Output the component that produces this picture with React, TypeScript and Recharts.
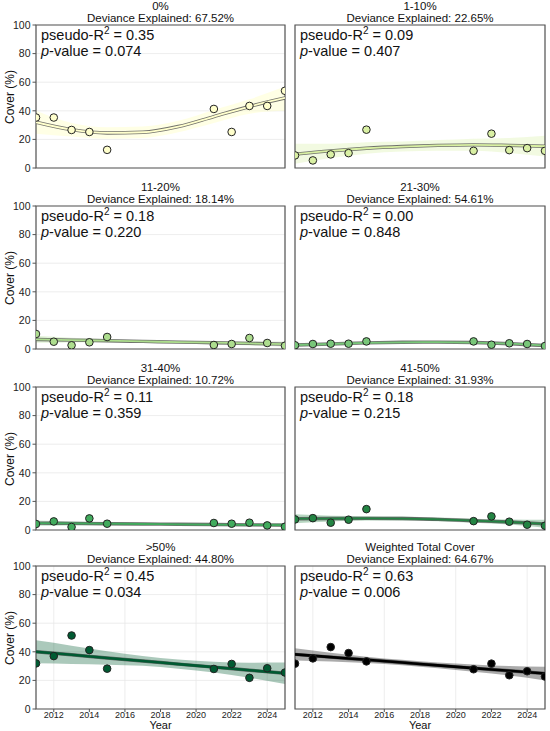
import React from "react";
import {
  ComposedChart,
  Area,
  Line,
  Scatter,
  XAxis,
  YAxis,
  CartesianGrid,
  ReferenceArea,
} from "recharts";

// survey years with observations
const YEARS = [2011, 2012, 2013, 2014, 2015, 2021, 2022, 2023, 2024, 2025];
const FIT_YEARS = [2011, 2013, 2015, 2017, 2019, 2021, 2023, 2025];
const X_TICKS = [2012, 2014, 2016, 2018, 2020, 2022, 2024];
const Y_TICKS = [0, 20, 40, 60, 80, 100];

const TITLES = ["0%", "1-10%", "11-20%", "21-30%", "31-40%", "41-50%", ">50%", "Weighted Total Cover"];
const DEVIANCE = ["67.52%", "22.65%", "18.14%", "54.61%", "10.72%", "31.93%", "44.80%", "64.67%"];
const PSEUDO_R2 = ["0.35", "0.09", "0.18", "0.00", "0.11", "0.18", "0.45", "0.63"];
const P_VALUES = ["0.074", "0.407", "0.220", "0.848", "0.359", "0.215", "0.034", "0.006"];

// observed cover (%)
const cover0 = [35.3, 35.3, 26.6, 25.2, 12.7, 41.3, 25.2, 43.4, 43.4, 54];
const cover1to10 = [8.8, 5.3, 9.5, 10.4, 26.8, 12, 24, 12.5, 13.9, 12];
const cover11to20 = [10.5, 5.1, 2.6, 4.7, 8.4, 2.8, 3.5, 7.7, 4.2, 2.3];
const cover21to30 = [2.6, 3.5, 3.7, 3.7, 5.3, 5.3, 3.0, 4.0, 3.5, 2.1];
const cover31to40 = [4.2, 6.0, 2.1, 8.1, 4.4, 4.9, 4.4, 5.1, 3.2, 2.3];
const cover41to50 = [7.4, 8.3, 5.1, 7.2, 14.6, 6.2, 9.5, 5.8, 3.7, 3.0];
const cover50 = [31.9, 37, 51.4, 41.2, 28.2, 28, 31.5, 21.8, 28.5, 25.5];
const coverTotal = [31.7, 35.4, 43.3, 39.1, 33.3, 27.8, 31.7, 23.6, 26.4, 22.7];

// fitted curve at FIT_YEARS
const fit0 = [32, 26.8, 24.5, 25, 29, 36, 43, 49];
const fit1to10 = [9.7, 12, 13.8, 15, 15.8, 16.2, 15.8, 15.2];
const fit11to20 = [6.7, 6.2, 5.8, 5.3, 4.8, 4.4, 3.9, 3.4];
const fit21to30 = [2.8, 3.5, 4.3, 4.7, 4.8, 4.5, 3.7, 2.4];
const fit31to40 = [4.8, 4.6, 4.4, 4.2, 4.0, 3.8, 3.6, 3.4];
const fit41to50 = [7.9, 8.0, 8.1, 8.0, 7.4, 6.5, 5.6, 4.3];
const fit50 = [40, 37.9, 35.7, 33.6, 31.4, 29.3, 27.1, 25];
const fitTotal = [38.2, 36.3, 34.4, 32.5, 30.5, 28.6, 26.7, 24.8];

// 95% CI lower / upper at FIT_YEARS
const lo0 = [24, 22, 20.5, 21, 25, 31.5, 38, 40];
const hi0 = [40, 31.5, 28.5, 29, 33, 40.5, 48, 57];
const lo1to10 = [3, 7, 10, 11.5, 12, 12, 10.5, 8];
const hi1to10 = [17, 17, 18, 18.5, 19.5, 20.5, 21, 22.5];
const lo11to20 = [4.3, 4.6, 4.7, 4.4, 3.9, 3.3, 2.5, 1.6];
const hi11to20 = [9.2, 7.8, 6.9, 6.2, 5.7, 5.5, 5.3, 5.3];
const lo21to30 = [1.8, 2.8, 3.6, 4.0, 4.1, 3.8, 3.0, 1.4];
const hi21to30 = [3.9, 4.2, 5.0, 5.4, 5.5, 5.2, 4.4, 3.4];
const lo31to40 = [2.9, 3.2, 3.4, 3.4, 3.2, 3.0, 2.6, 2.1];
const hi31to40 = [6.7, 6.0, 5.4, 5.0, 4.8, 4.6, 4.6, 4.9];
const lo41to50 = [4.8, 6.0, 6.6, 6.6, 6.1, 5.1, 3.9, 1.5];
const hi41to50 = [11.0, 10.0, 9.6, 9.4, 8.7, 7.9, 7.3, 7.1];
const lo50 = [32, 31.5, 31, 30.2, 28.2, 25.5, 21.8, 17.5];
const hi50 = [48, 44.3, 40.4, 37, 34.6, 33.1, 32.4, 32.5];
const loTotal = [34, 33.2, 32.2, 30.6, 28.5, 26.1, 23.4, 20];
const hiTotal = [42.4, 39.4, 36.6, 34.4, 32.5, 31.1, 30, 29.6];

const OBSERVED = [cover0, cover1to10, cover11to20, cover21to30, cover31to40, cover41to50, cover50, coverTotal];
const FITS = [fit0, fit1to10, fit11to20, fit21to30, fit31to40, fit41to50, fit50, fitTotal];
const LOWER = [lo0, lo1to10, lo11to20, lo21to30, lo31to40, lo41to50, lo50, loTotal];
const UPPER = [hi0, hi1to10, hi11to20, hi21to30, hi31to40, hi41to50, hi50, hiTotal];

// YlGn-like palette, black for the total
const COLORS = ["#ffffcc", "#d9f0a3", "#addd8e", "#78c679", "#41ab5d", "#238443", "#005a32", "#000000"];

const FONT = '"Liberation Sans", Arial, sans-serif';
const PLOT_H = 143;
const ROW_TOPS = [25, 206, 387, 566];
const SPINE = "#555";

const Panel = ({ idx }: { idx: number }) => {
  const row = Math.floor(idx / 2);
  const isLeft = idx % 2 === 0;
  const isBottom = row === 3;
  const plotTop = ROW_TOPS[row];
  const chartLeft = isLeft ? 0 : 290;
  const chartWidth = isLeft ? 290 : 260;
  const yAxisWidth = isLeft ? 36 : 5;
  const xAxisHeight = isBottom ? 22 : 6;
  const plotLeft = chartLeft + yAxisWidth;
  const plotWidth = chartWidth - yAxisWidth - 5;
  const color = COLORS[idx];

  const fitRows = FIT_YEARS.map((year, i) => ({
    year,
    fit: FITS[idx][i],
    band: [LOWER[idx][i], UPPER[idx][i]],
  }));
  const points = YEARS.map((year, i) => ({ year, cover: OBSERVED[idx][i] }));

  return (
    <>
      <div style={{ position: "absolute", left: chartLeft, top: plotTop - 25 }}>
        <ComposedChart
          width={chartWidth}
          height={25 + PLOT_H + xAxisHeight}
          data={fitRows}
          margin={{ top: 25, right: 5, left: 0, bottom: 0 }}
        >
          <CartesianGrid stroke="#e8e8e8" strokeWidth={0.8} />
          <XAxis
            dataKey="year"
            type="number"
            domain={[2011, 2025]}
            ticks={X_TICKS}
            allowDataOverflow
            axisLine={false}
            tickLine={{ stroke: SPINE }}
            tickSize={3}
            tickMargin={0}
            height={xAxisHeight}
            tick={isBottom ? { fontSize: 9, fill: "#222", fontFamily: FONT } : false}
          />
          <YAxis
            type="number"
            domain={[0, 100]}
            ticks={Y_TICKS}
            allowDataOverflow
            axisLine={false}
            tickLine={{ stroke: SPINE }}
            tickSize={3.5}
            tickMargin={2}
            width={yAxisWidth}
            tick={isLeft ? { fontSize: 10.5, fill: "#222", fontFamily: FONT } : false}
          />
          <Area
            dataKey="band"
            type="monotone"
            fill={color}
            fillOpacity={idx === 0 ? 0.5 : 0.33}
            stroke="none"
            isAnimationActive={false}
          />
          <Line
            dataKey="fit"
            type="monotone"
            stroke="#444"
            strokeOpacity={0.75}
            strokeWidth={3.4}
            dot={false}
            activeDot={false}
            isAnimationActive={false}
          />
          <Line
            dataKey="fit"
            type="monotone"
            stroke={color}
            strokeWidth={idx >= 6 ? 2.6 : 1.8}
            dot={false}
            activeDot={false}
            isAnimationActive={false}
          />
          <Scatter
            data={points}
            dataKey="cover"
            isAnimationActive={false}
            shape={(p: any) => (
              <circle cx={p.cx} cy={p.cy} r={3.8} fill={color} stroke="#222" strokeWidth={1} />
            )}
          />
          <ReferenceArea
            x1={2011}
            x2={2025}
            y1={0}
            y2={100}
            fill="none"
            stroke={SPINE}
            strokeWidth={1.2}
          />
        </ComposedChart>
      </div>
      <div
        style={{
          position: "absolute",
          left: plotLeft,
          width: plotWidth,
          top: plotTop - 25,
          textAlign: "center",
          fontSize: 11.5,
          lineHeight: "12px",
          color: "#111",
        }}
      >
        <div>{TITLES[idx]}</div>
        <div>Deviance Explained: {DEVIANCE[idx]}</div>
      </div>
      <div
        style={{
          position: "absolute",
          left: plotLeft + 5,
          top: plotTop + 2,
          fontSize: 14.5,
          lineHeight: "16px",
          color: "#111",
          whiteSpace: "nowrap",
        }}
      >
        <div>
          pseudo-R<sup style={{ fontSize: 10, lineHeight: 0 }}>2</sup> = {PSEUDO_R2[idx]}
        </div>
        <div>
          <i>p</i>-value = {P_VALUES[idx]}
        </div>
      </div>
      {isLeft && (
        <div
          style={{
            position: "absolute",
            left: 10,
            top: plotTop + PLOT_H / 2,
            transform: "translate(-50%, -50%) rotate(-90deg)",
            fontSize: 12,
            whiteSpace: "nowrap",
            color: "#111",
          }}
        >
          Cover (%)
        </div>
      )}
      {isBottom && (
        <div
          style={{
            position: "absolute",
            left: plotLeft,
            width: plotWidth,
            top: 720,
            textAlign: "center",
            fontSize: 11,
            lineHeight: "11px",
            color: "#111",
          }}
        >
          Year
        </div>
      )}
    </>
  );
};

export default function App() {
  return (
    <div
      style={{
        position: "absolute",
        left: 0,
        top: 0,
        width: 550,
        height: 731,
        background: "#fff",
        fontFamily: FONT,
        overflow: "hidden",
      }}
    >
      {TITLES.map((_, i) => (
        <Panel key={i} idx={i} />
      ))}
    </div>
  );
}
